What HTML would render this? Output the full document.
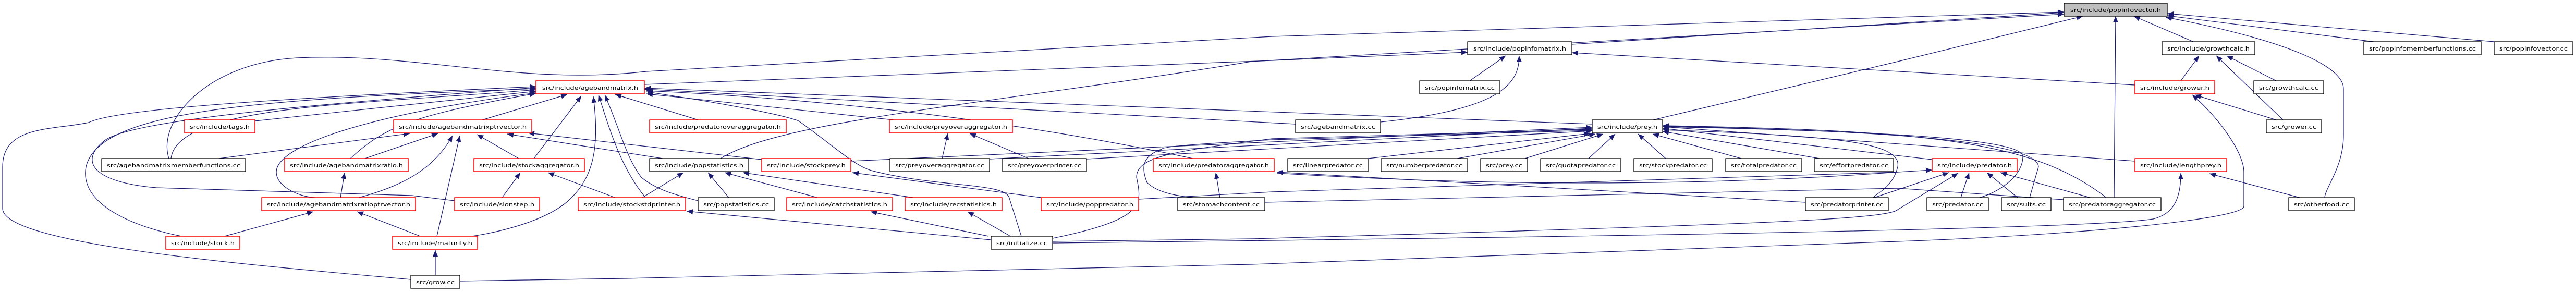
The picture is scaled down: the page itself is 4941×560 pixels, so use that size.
<!DOCTYPE html>
<html><head><meta charset="utf-8"><style>
html,body{margin:0;padding:0;background:#fff;}
svg{display:block}
text{font-family:"DejaVu Sans","Liberation Sans",sans-serif;font-size:11px;fill:#000}
.e{fill:none;stroke:#191970;stroke-width:1.2}
.a{marker-start:url(#ar)}
.r{fill:#fff;stroke:#ff0000;stroke-width:1.5}
.k{fill:#fff;stroke:#000;stroke-width:1.3}
.g{fill:#bfbfbf;stroke:#000;stroke-width:1.3}
</style></head><body>
<svg width="4941" height="560" viewBox="0 0 4941 560" xmlns="http://www.w3.org/2000/svg">
<defs><marker id="ar" markerWidth="12" markerHeight="10" refX="12" refY="5" orient="auto-start-reverse" markerUnits="userSpaceOnUse"><path d="M0,5 L12,0 L12,10 Z" fill="#191970" transform="rotate(180 6 5)"/></marker></defs>
<g>
<path class="e a" d="M3959,23 L2440,70 L1240,137 C1000,165 800,100 570,111 C400,120 300,230 324,304"/>
<path class="e a" d="M2815,100 L2440,116 L1236,162"/>
<path class="e a" d="M3959,27 L3640,46 L2400,118 C1900,200 1500,230 1382,304"/>
<path class="e a" d="M3959,24 L3015,85"/>
<path class="e a" d="M3995,31 L3640,118 L3171,230"/>
<path class="e a" d="M4058,31 L4055,379"/>
<path class="e a" d="M4093,31 L4207,80"/>
<path class="e a" d="M4154,33 C4400,80 4495,130 4495,170 L4495,260 C4495,320 4460,360 4459,379"/>
<path class="e a" d="M4157,30 L4553,80"/>
<path class="e a" d="M4157,26 L4784,80"/>
<path class="e a" d="M3015,101 L4095,163"/>
<path class="e a" d="M2888,107 L2819,155"/>
<path class="e a" d="M2914,107 C2914,160 2880,210 2648,234"/>
<path class="e a" d="M1236,171 L2485,238"/>
<path class="e a" d="M1236,169 L3054,238"/>
<path class="e a" d="M1240,180 L1714,230"/>
<path class="e a" d="M1240,176 C1400,200 1500,220 1532,232 C1600,280 1640,320 1675,328 C1800,360 1930,350 1936,380 L1959,453"/>
<path class="e a" d="M1240,174 Q1800,200 2288,304"/>
<path class="e a" d="M1180,181 L1339,230"/>
<path class="e a" d="M1088,181 L925,230"/>
<path class="e a" d="M1115,184 L1024,304"/>
<path class="e a" d="M1138,185 C1150,280 1140,340 1090,385 C1040,430 930,450 904,453"/>
<path class="e a" d="M1148,182 C1170,250 1190,320 1238,379"/>
<path class="e a" d="M1160,182 C1190,250 1200,300 1230,340 C1260,365 1300,375 1339,385"/>
<path class="e a" d="M1028,175 L489,232"/>
<path class="e a" d="M1028,172 C700,200 340,200 328,304"/>
<path class="e a" d="M1028,170 C500,190 190,210 165,320 C150,400 280,440 348,453"/>
<path class="e a" d="M1028,168 C600,200 250,230 200,270 C150,310 180,350 300,360 L790,375 L872,385"/>
<path class="e a" d="M1028,166 C500,190 220,210 170,235 C100,250 5,240 5,320 L5,400 C5,470 500,510 788,536"/>
<path class="e a" d="M1028,178 C700,220 530,280 530,330 C530,360 580,380 609,379"/>
<path class="e a" d="M1028,179 C800,220 740,240 672,304"/>
<path class="e a" d="M786,256 L420,304"/>
<path class="e a" d="M840,256 L700,304"/>
<path class="e a" d="M868,260 C830,330 760,360 688,379"/>
<path class="e a" d="M882,260 L838,453"/>
<path class="e a" d="M915,258 L995,304"/>
<path class="e a" d="M1013,255 L1461,306"/>
<path class="e a" d="M973,257 L1271,304"/>
<path class="e a" d="M661,331 L653,379"/>
<path class="e a" d="M998,331 L963,379"/>
<path class="e a" d="M1051,331 L1180,379"/>
<path class="e a" d="M601,406 L431,453"/>
<path class="e a" d="M685,406 L806,453"/>
<path class="e a" d="M835,480 L835,528"/>
<path class="e a" d="M1311,331 L1232,379"/>
<path class="e a" d="M1358,331 L1398,379"/>
<path class="e a" d="M1390,331 L1568,379"/>
<path class="e a" d="M1425,331 L1752,379"/>
<path class="e a" d="M1635,331 L1997,379"/>
<path class="e a" d="M1818,256 L1807,304"/>
<path class="e a" d="M1860,256 L1973,304"/>
<path class="e a" d="M1317,405 L1901,460"/>
<path class="e a" d="M1670,406 L1896,453"/>
<path class="e a" d="M1856,406 L1938,453"/>
<path class="e a" d="M2332,331 L2340,379"/>
<path class="e a" d="M2449,330 L3463,388"/>
<path class="e" d="M2449,332 C2900,360 3300,355 3640,330"/>
<path class="e a" d="M3706,326 L3640,330 L2440,368 L2184,382"/>
<path class="e" d="M3958,383 L3640,361 L2426,388"/>
<path class="e a" d="M3054,250 L2440,268 C2320,275 2230,280 2228,286 C2190,300 2189,321 2200,350 C2220,370 2260,376 2288,379"/>
<path class="e a" d="M3054,248 L2440,266 C2250,290 2180,300 2180,340 C2190,390 2200,420 2019,457"/>
<path class="e a" d="M3054,244 L1632,309"/>
<path class="e a" d="M3054,246 L1898,305"/>
<path class="e a" d="M3054,251 L2084,305"/>
<path class="e a" d="M3050,256 L2624,304"/>
<path class="e a" d="M3060,257 L2795,304"/>
<path class="e a" d="M3075,257 L2925,304"/>
<path class="e a" d="M3098,257 L3047,304"/>
<path class="e a" d="M3142,257 L3195,304"/>
<path class="e a" d="M3170,257 L3340,304"/>
<path class="e a" d="M3189,252 L3490,304"/>
<path class="e a" d="M3189,246 L3706,306"/>
<path class="e a" d="M3189,243 L4095,309"/>
<path class="e a" d="M3189,243 C3500,250 3880,260 3880,300 C3880,340 3830,370 3797,379"/>
<path class="e a" d="M3189,242 C3600,250 3910,270 3910,320 L3893,379"/>
<path class="e a" d="M3189,241 C3700,250 3900,270 4040,379"/>
<path class="e a" d="M3189,249 C3500,260 3650,270 3640,320 C3630,360 3600,370 3593,379"/>
<path class="e a" d="M3777,331 L3761,379"/>
<path class="e a" d="M3811,331 L3870,379"/>
<path class="e a" d="M3837,331 L4009,379"/>
<path class="e a" d="M3738,331 L3595,379"/>
<path class="e a" d="M3756,332 L3640,402 C3620,420 3400,430 2400,458 L2019,463"/>
<path class="e a" d="M4238,333 L4411,379"/>
<path class="e a" d="M4183,332 C4183,380 4170,410 4130,420 C4000,440 3000,455 2019,466"/>
<path class="e a" d="M4205,182 C4250,220 4304,290 4304,330 L4304,396 C4300,420 4000,450 3640,463 L2400,507 L1200,534 L882,539"/>
<path class="e a" d="M4210,182 L4366,230"/>
<path class="e a" d="M4251,107 L4379,230"/>
<path class="e a" d="M4271,107 L4366,155"/>
<path class="e a" d="M4218,107 L4183,155"/>
</g>
<g>
<rect class="g" x="3959" y="6" width="198" height="25"/><text x="3971" y="23" textLength="174" lengthAdjust="spacingAndGlyphs">src/include/popinfovector.h</text>
<rect class="k" x="2815" y="80" width="200" height="25"/><text x="2826" y="97" textLength="178" lengthAdjust="spacingAndGlyphs">src/include/popinfomatrix.h</text>
<rect class="k" x="4147" y="80" width="178" height="25"/><text x="4157" y="97" textLength="158" lengthAdjust="spacingAndGlyphs">src/include/growthcalc.h</text>
<rect class="k" x="4534" y="80" width="225" height="25"/><text x="4544" y="97" textLength="205" lengthAdjust="spacingAndGlyphs">src/popinfomemberfunctions.cc</text>
<rect class="k" x="4784" y="80" width="151" height="25"/><text x="4794" y="97" textLength="131" lengthAdjust="spacingAndGlyphs">src/popinfovector.cc</text>
<rect class="r" x="1028" y="155" width="208" height="25"/><text x="1040" y="172" textLength="184" lengthAdjust="spacingAndGlyphs">src/include/agebandmatrix.h</text>
<rect class="k" x="2723" y="155" width="154" height="25"/><text x="2733" y="172" textLength="134" lengthAdjust="spacingAndGlyphs">src/popinfomatrix.cc</text>
<rect class="r" x="4095" y="155" width="153" height="25"/><text x="4105" y="172" textLength="133" lengthAdjust="spacingAndGlyphs">src/include/grower.h</text>
<rect class="k" x="4323" y="155" width="134" height="25"/><text x="4333" y="172" textLength="114" lengthAdjust="spacingAndGlyphs">src/growthcalc.cc</text>
<rect class="r" x="354" y="230" width="135" height="25"/><text x="364" y="247" textLength="115" lengthAdjust="spacingAndGlyphs">src/include/tags.h</text>
<rect class="r" x="755" y="230" width="265" height="25"/><text x="765" y="247" textLength="245" lengthAdjust="spacingAndGlyphs">src/include/agebandmatrixptrvector.h</text>
<rect class="r" x="1246" y="230" width="262" height="25"/><text x="1256" y="247" textLength="242" lengthAdjust="spacingAndGlyphs">src/include/predatoroveraggregator.h</text>
<rect class="r" x="1706" y="230" width="236" height="25"/><text x="1716" y="247" textLength="216" lengthAdjust="spacingAndGlyphs">src/include/preyoveraggregator.h</text>
<rect class="k" x="2485" y="230" width="163" height="25"/><text x="2495" y="247" textLength="143" lengthAdjust="spacingAndGlyphs">src/agebandmatrix.cc</text>
<rect class="k" x="3054" y="230" width="135" height="25"/><text x="3064" y="247" textLength="115" lengthAdjust="spacingAndGlyphs">src/include/prey.h</text>
<rect class="k" x="4347" y="230" width="106" height="25"/><text x="4357" y="247" textLength="86" lengthAdjust="spacingAndGlyphs">src/grower.cc</text>
<rect class="k" x="195" y="304" width="276" height="25"/><text x="205" y="321" textLength="256" lengthAdjust="spacingAndGlyphs">src/agebandmatrixmemberfunctions.cc</text>
<rect class="r" x="546" y="304" width="237" height="25"/><text x="556" y="321" textLength="217" lengthAdjust="spacingAndGlyphs">src/include/agebandmatrixratio.h</text>
<rect class="r" x="909" y="304" width="212" height="25"/><text x="919" y="321" textLength="192" lengthAdjust="spacingAndGlyphs">src/include/stockaggregator.h</text>
<rect class="k" x="1246" y="304" width="190" height="25"/><text x="1256" y="321" textLength="170" lengthAdjust="spacingAndGlyphs">src/include/popstatistics.h</text>
<rect class="r" x="1461" y="304" width="171" height="25"/><text x="1471" y="321" textLength="151" lengthAdjust="spacingAndGlyphs">src/include/stockprey.h</text>
<rect class="k" x="1707" y="304" width="191" height="25"/><text x="1717" y="321" textLength="171" lengthAdjust="spacingAndGlyphs">src/preyoveraggregator.cc</text>
<rect class="k" x="1923" y="304" width="161" height="25"/><text x="1933" y="321" textLength="141" lengthAdjust="spacingAndGlyphs">src/preyoverprinter.cc</text>
<rect class="r" x="2212" y="304" width="232" height="25"/><text x="2222" y="321" textLength="212" lengthAdjust="spacingAndGlyphs">src/include/predatoraggregator.h</text>
<rect class="k" x="2470" y="304" width="154" height="25"/><text x="2480" y="321" textLength="134" lengthAdjust="spacingAndGlyphs">src/linearpredator.cc</text>
<rect class="k" x="2649" y="304" width="166" height="25"/><text x="2659" y="321" textLength="146" lengthAdjust="spacingAndGlyphs">src/numberpredator.cc</text>
<rect class="k" x="2840" y="304" width="90" height="25"/><text x="2850" y="321" textLength="70" lengthAdjust="spacingAndGlyphs">src/prey.cc</text>
<rect class="k" x="2955" y="304" width="154" height="25"/><text x="2965" y="321" textLength="134" lengthAdjust="spacingAndGlyphs">src/quotapredator.cc</text>
<rect class="k" x="3134" y="304" width="150" height="25"/><text x="3144" y="321" textLength="130" lengthAdjust="spacingAndGlyphs">src/stockpredator.cc</text>
<rect class="k" x="3310" y="304" width="146" height="25"/><text x="3320" y="321" textLength="126" lengthAdjust="spacingAndGlyphs">src/totalpredator.cc</text>
<rect class="k" x="3480" y="304" width="152" height="25"/><text x="3490" y="321" textLength="132" lengthAdjust="spacingAndGlyphs">src/effortpredator.cc</text>
<rect class="r" x="3706" y="304" width="163" height="25"/><text x="3716" y="321" textLength="143" lengthAdjust="spacingAndGlyphs">src/include/predator.h</text>
<rect class="r" x="4095" y="304" width="176" height="25"/><text x="4105" y="321" textLength="156" lengthAdjust="spacingAndGlyphs">src/include/lengthprey.h</text>
<rect class="r" x="502" y="379" width="295" height="25"/><text x="512" y="396" textLength="275" lengthAdjust="spacingAndGlyphs">src/include/agebandmatrixratioptrvector.h</text>
<rect class="r" x="872" y="379" width="163" height="25"/><text x="882" y="396" textLength="143" lengthAdjust="spacingAndGlyphs">src/include/sionstep.h</text>
<rect class="r" x="1109" y="379" width="206" height="25"/><text x="1119" y="396" textLength="186" lengthAdjust="spacingAndGlyphs">src/include/stockstdprinter.h</text>
<rect class="k" x="1339" y="379" width="146" height="25"/><text x="1349" y="396" textLength="126" lengthAdjust="spacingAndGlyphs">src/popstatistics.cc</text>
<rect class="r" x="1509" y="379" width="203" height="25"/><text x="1519" y="396" textLength="183" lengthAdjust="spacingAndGlyphs">src/include/catchstatistics.h</text>
<rect class="r" x="1736" y="379" width="186" height="25"/><text x="1746" y="396" textLength="166" lengthAdjust="spacingAndGlyphs">src/include/recstatistics.h</text>
<rect class="r" x="1997" y="379" width="187" height="25"/><text x="2007" y="396" textLength="167" lengthAdjust="spacingAndGlyphs">src/include/poppredator.h</text>
<rect class="k" x="2259" y="379" width="167" height="25"/><text x="2269" y="396" textLength="147" lengthAdjust="spacingAndGlyphs">src/stomachcontent.cc</text>
<rect class="k" x="3463" y="379" width="159" height="25"/><text x="3473" y="396" textLength="139" lengthAdjust="spacingAndGlyphs">src/predatorprinter.cc</text>
<rect class="k" x="3696" y="379" width="118" height="25"/><text x="3706" y="396" textLength="98" lengthAdjust="spacingAndGlyphs">src/predator.cc</text>
<rect class="k" x="3839" y="379" width="95" height="25"/><text x="3849" y="396" textLength="75" lengthAdjust="spacingAndGlyphs">src/suits.cc</text>
<rect class="k" x="3958" y="379" width="187" height="25"/><text x="3968" y="396" textLength="167" lengthAdjust="spacingAndGlyphs">src/predatoraggregator.cc</text>
<rect class="k" x="4390" y="379" width="126" height="25"/><text x="4400" y="396" textLength="106" lengthAdjust="spacingAndGlyphs">src/otherfood.cc</text>
<rect class="r" x="318" y="453" width="142" height="25"/><text x="328" y="470" textLength="122" lengthAdjust="spacingAndGlyphs">src/include/stock.h</text>
<rect class="r" x="753" y="453" width="163" height="25"/><text x="763" y="470" textLength="143" lengthAdjust="spacingAndGlyphs">src/include/maturity.h</text>
<rect class="k" x="1901" y="453" width="118" height="25"/><text x="1911" y="470" textLength="98" lengthAdjust="spacingAndGlyphs">src/initialize.cc</text>
<rect class="k" x="788" y="528" width="94" height="25"/><text x="798" y="545" textLength="74" lengthAdjust="spacingAndGlyphs">src/grow.cc</text>
</g>
</svg>
</body></html>
